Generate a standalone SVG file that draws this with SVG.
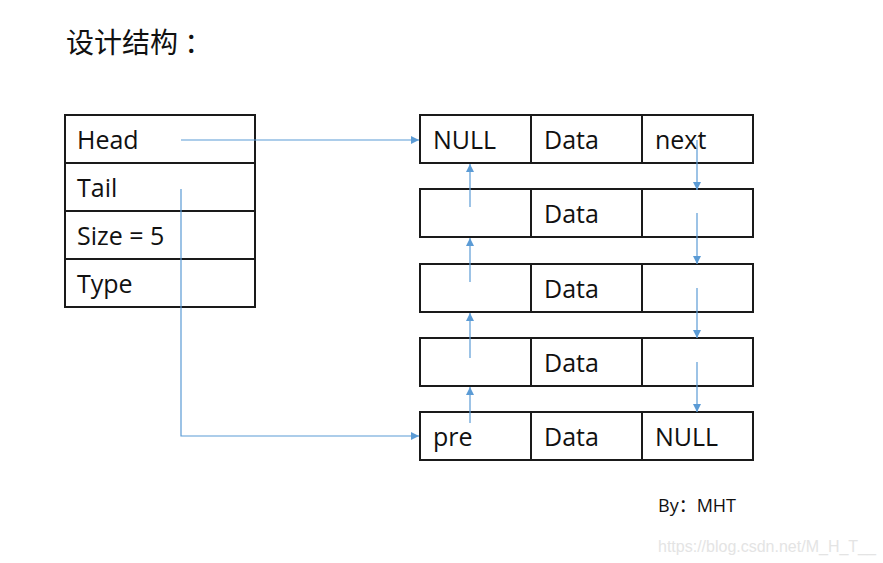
<svg xmlns="http://www.w3.org/2000/svg" width="883" height="563" viewBox="0 0 883 563">
<style>
.cell{fill:#fff;stroke:#1a1a1a;stroke-width:2}
.t{font-family:"Open Sans","Noto Sans",sans-serif;font-size:25px;fill:#111}
.c{fill:none;stroke:#5b9bd5;stroke-width:1.2}
</style>
<defs>
<marker id="ah" viewBox="0 0 10 10" refX="10" refY="5" markerWidth="8" markerHeight="8" markerUnits="userSpaceOnUse" orient="auto">
<path d="M0,0 L10,5 L0,10 z" fill="#5b9bd5"/>
</marker>
</defs>
<rect width="883" height="563" fill="#fff"/>
<text x="66" y="53" style="font-family:'Noto Sans CJK SC',sans-serif;font-size:28px;fill:#111">设计结构 ：</text>
<g id="struct">
<rect class="cell" x="65" y="115" width="190" height="48"/>
<rect class="cell" x="65" y="163" width="190" height="48"/>
<rect class="cell" x="65" y="211" width="190" height="48"/>
<rect class="cell" x="65" y="259" width="190" height="48"/>
<text class="t" x="77" y="149">Head</text>
<text class="t" x="77" y="197">Tail</text>
<text class="t" x="77" y="245">Size = 5</text>
<text class="t" x="77" y="293">Type</text>
</g>
<g id="node1">
<rect class="cell" x="420" y="115" width="111" height="48"/>
<rect class="cell" x="531" y="115" width="111" height="48"/>
<rect class="cell" x="642" y="115" width="111" height="48"/>
<text class="t" x="433" y="149">NULL</text>
<text class="t" x="544" y="149">Data</text>
<text class="t" x="655" y="149">next</text>
</g>
<g id="node2">
<rect class="cell" x="420" y="189" width="111" height="48"/>
<rect class="cell" x="531" y="189" width="111" height="48"/>
<rect class="cell" x="642" y="189" width="111" height="48"/>
<text class="t" x="544" y="223">Data</text>
</g>
<g id="node3">
<rect class="cell" x="420" y="264" width="111" height="48"/>
<rect class="cell" x="531" y="264" width="111" height="48"/>
<rect class="cell" x="642" y="264" width="111" height="48"/>
<text class="t" x="544" y="298">Data</text>
</g>
<g id="node4">
<rect class="cell" x="420" y="338" width="111" height="48"/>
<rect class="cell" x="531" y="338" width="111" height="48"/>
<rect class="cell" x="642" y="338" width="111" height="48"/>
<text class="t" x="544" y="372">Data</text>
</g>
<g id="node5">
<rect class="cell" x="420" y="412" width="111" height="48"/>
<rect class="cell" x="531" y="412" width="111" height="48"/>
<rect class="cell" x="642" y="412" width="111" height="48"/>
<text class="t" x="433" y="446">pre</text>
<text class="t" x="544" y="446">Data</text>
<text class="t" x="655" y="446">NULL</text>
</g>
<g id="connectors">
<path class="c" d="M181,140 H419" marker-end="url(#ah)"/>
<path class="c" d="M181,189 V436 H419" marker-end="url(#ah)"/>
<path class="c" d="M470,207 V164" marker-end="url(#ah)"/>
<path class="c" d="M470,282 V238" marker-end="url(#ah)"/>
<path class="c" d="M470,358 V313" marker-end="url(#ah)"/>
<path class="c" d="M470,423 V387" marker-end="url(#ah)"/>
<path class="c" d="M697,140 V190" marker-end="url(#ah)"/>
<path class="c" d="M697,213 V264" marker-end="url(#ah)"/>
<path class="c" d="M697,288 V338" marker-end="url(#ah)"/>
<path class="c" d="M697,362 V412" marker-end="url(#ah)"/>
</g>
<text x="658" y="512" style="font-family:'Open Sans','Noto Sans CJK SC',sans-serif;font-size:18px;fill:#111">By：MHT</text>
<text x="658" y="552" style="font-family:'Liberation Sans',sans-serif;font-size:16px;fill:#e4e4e4">https://blog.csdn.net/M_H_T__</text>
</svg>
